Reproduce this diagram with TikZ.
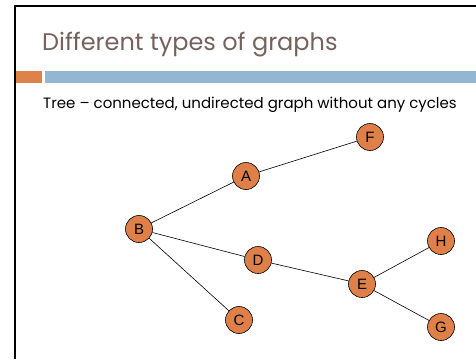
\documentclass[tikz,border=0pt]{standalone}
\usepackage{fontspec}
\setmainfont{Poppins}
\newfontfamily\nodefont{Liberation Sans}
\usepackage{tikz}
\usetikzlibrary{positioning}
\definecolor{titlebrown}{RGB}{118,98,92}
\definecolor{barorange}{RGB}{222,130,74}
\definecolor{barblue}{RGB}{147,182,210}
\definecolor{vertexfill}{RGB}{222,128,72}

\begin{document}
\begin{tikzpicture}[x=1pt,y=-1pt,
    vertex/.style={circle, draw=black, fill=vertexfill, line width=0.6pt,
                   minimum size=27pt, inner sep=0pt, font=\nodefont\fontsize{15}{15}\selectfont},
    edge/.style={draw=black, line width=0.6pt}]
  \useasboundingbox (0,0) rectangle (476,359);
  % slide frame and header
  \draw[line width=2pt] (15,359) -- (15,6) -- (476,6);
  \node[anchor=base west, text=titlebrown, inner sep=0pt,
        font=\fontsize{24}{24}\selectfont] (title) at (42,50) {Different types of graphs};
  \fill[barorange] (16,71) rectangle (42,83);
  \fill[barblue] (45,71) rectangle (476,83);
  \node[anchor=base west, inner sep=0pt,
        font=\fontsize{15}{15}\selectfont] (caption) at (43,108)
        {Tree – connected, undirected graph without any cycles};

  % the tree
  \node[vertex] (A) at (246,176) {A};
  \node[vertex] (B) at (139,229) {B};
  \node[vertex] (C) at (239,320) {C};
  \node[vertex] (D) at (258,260) {D};
  \node[vertex] (E) at (362,284) {E};
  \node[vertex] (F) at (370,137) {F};
  \node[vertex] (G) at (441,327) {G};
  \node[vertex] (H) at (441,241) {H};

  \draw[edge] (B) -- (A);
  \draw[edge] (A) -- (F);
  \draw[edge] (B) -- (D);
  \draw[edge] (B) -- (C);
  \draw[edge] (D) -- (E);
  \draw[edge] (E) -- (H);
  \draw[edge] (E) -- (G);
\end{tikzpicture}
\end{document}
